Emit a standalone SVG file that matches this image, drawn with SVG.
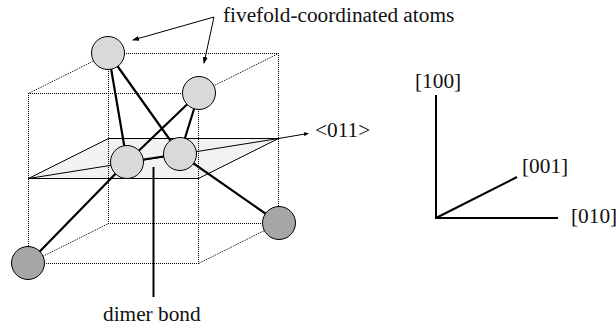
<svg xmlns="http://www.w3.org/2000/svg" width="616" height="328" viewBox="0 0 616 328">
<style>
text{font-family:"Liberation Serif","Times New Roman",serif;font-size:21.3px;fill:#111}
.dot{fill:none;stroke:#000;stroke-width:1;stroke-dasharray:1 1}
.thin{fill:none;stroke:#000;stroke-width:1}
.mid{fill:none;stroke:#000;stroke-width:1.2}
.bond{fill:none;stroke:#000;stroke-width:2.2}
.axis{fill:none;stroke:#000;stroke-width:2}
.light{fill:#d9d9d9;stroke:#000;stroke-width:1}
.dark{fill:#a6a6a6;stroke:#000;stroke-width:1}
</style>
<defs>
<marker id="ah" markerUnits="userSpaceOnUse" markerWidth="7" markerHeight="5" refX="6" refY="2.500" orient="auto"><path d="M0 0L7 2.500L0 5Z" fill="#000"/></marker>
<marker id="ah2" markerUnits="userSpaceOnUse" markerWidth="5" markerHeight="4" refX="4" refY="2" orient="auto"><path d="M0 0L5 2L0 4Z" fill="#000"/></marker>
</defs>
<g id="plane"><polygon points="28.500,178.500 108.500,138.500 278.500,138.500 198.500,178.500" fill="#f2f2f2"/></g>
<g id="box">
<path class="dot" d="M108 53.500H279M28 93.500H199M108 223.500H279M28 263.500H199M108.500 53V224M278.500 53V224M28.500 93V264M198.500 93V264"/>
<path class="dot" d="M108.500 53.500L28.500 93.500M278.500 53.500L198.500 93.500M278.500 223.500L198.500 263.500M108.500 223.500L28.500 263.500" stroke-dasharray="1.200 1.200"/>
</g>
<g id="connectors">
<path class="thin" d="M108.500 138.500L28.500 178.500M108.500 138.500H278.500L198.500 178.500"/>
<path class="mid" d="M28 178.500H199"/>
<path class="thin" d="M28.500 178.500L278.500 138.500L308 133.500" marker-end="url(#ah2)"/>
<path class="thin" d="M214 17L133 40" marker-end="url(#ah)"/>
<path class="thin" d="M214 17L204 63" marker-end="url(#ah)"/>
<path class="bond" d="M108.500 53.500L127 162M108.500 53.500L180 154M199 93L127 162M199 93L180 154M127 162L180 154M127 162L28.500 263M180 154L279 223"/>
<path class="axis" d="M153.500 167V297"/>
</g>
<g id="atom-top-left"><circle class="light" cx="108" cy="53" r="16.500"/></g>
<g id="atom-top-right"><circle class="light" cx="199" cy="93" r="16.500"/></g>
<g id="atom-dimer-left"><circle class="light" cx="127" cy="162" r="16.500"/></g>
<g id="atom-dimer-right"><circle class="light" cx="180" cy="154" r="16.500"/></g>
<g id="atom-bottom-left"><circle class="dark" cx="28" cy="263" r="16.500"/></g>
<g id="atom-bottom-right"><circle class="dark" cx="279" cy="223" r="16.500"/></g>
<g id="axes"><path class="axis" d="M436 95V218H558M436 218L517 177"/></g>
<g id="labels">
<text x="223" y="22">fivefold-coordinated atoms</text>
<text x="315" y="137">&lt;011&gt;</text>
<text x="103" y="321">dimer bond</text>
<text x="415" y="88">[100]</text>
<text x="522" y="173">[001]</text>
<text x="571" y="223">[010]</text>
</g>
</svg>
